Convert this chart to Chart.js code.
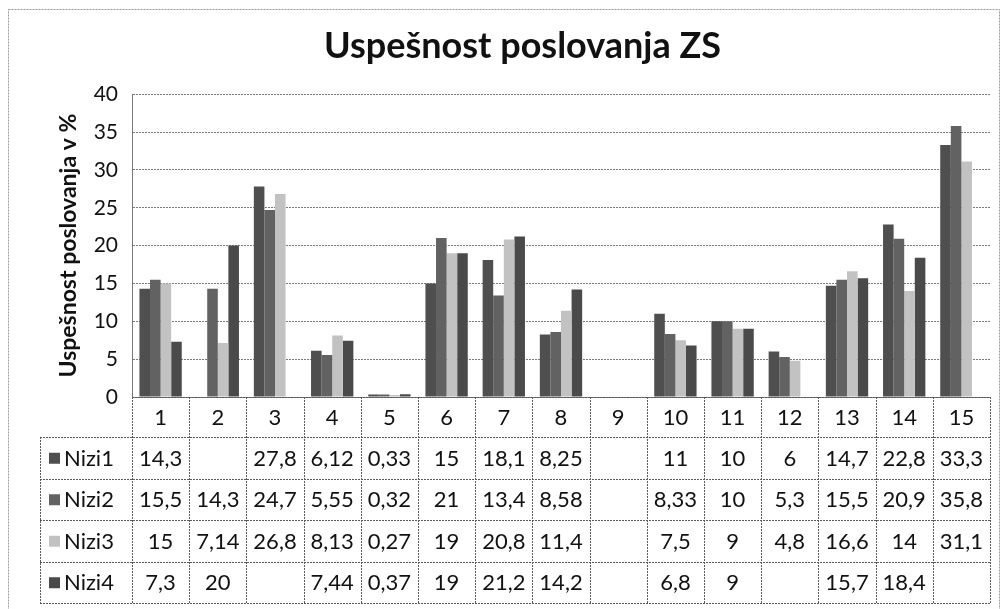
<!DOCTYPE html>
<html>
<head>
<meta charset="utf-8">
<script src="https://cdn.jsdelivr.net/npm/chart.js@4.4.0/dist/chart.umd.min.js"></script>
<style>
  html, body { margin: 0; padding: 0; background: #fff; }
  #wrap { width: 1002px; height: 609px; }
</style>
</head>
<body>
<div id="wrap"><canvas id="chart"></canvas></div>
<script>
// ----- DATA ----- //
const categories = ['1','2','3','4','5','6','7','8','9','10','11','12','13','14','15'];
const nizi1 = [14.3, null, 27.8, 6.12, 0.33, 15, 18.1, 8.25, null, 11, 10, 6, 14.7, 22.8, 33.3];
const nizi2 = [15.5, 14.3, 24.7, 5.55, 0.32, 21, 13.4, 8.58, null, 8.33, 10, 5.3, 15.5, 20.9, 35.8];
const nizi3 = [15, 7.14, 26.8, 8.13, 0.27, 19, 20.8, 11.4, null, 7.5, 9, 4.8, 16.6, 14, 31.1];
const nizi4 = [7.3, 20, null, 7.44, 0.37, 19, 21.2, 14.2, null, 6.8, 9, null, 15.7, 18.4, null];
const seriesNames = ['Nizi1', 'Nizi2', 'Nizi3', 'Nizi4'];
const seriesColors = ['#4f4f4f', '#626262', '#c2c2c2', '#4a4a4a'];

const FONT = 'Lato, "Open Sans", sans-serif';

// decimal comma like in the original table
function fmt(v) {
  if (v === null) return '';
  return String(v).replace('.', ',');
}

// ----- DATA TABLE PLUGIN ----- //
const dataTable = {
  id: 'dataTable',
  beforeDraw(chart) {
    const ctx = chart.ctx;
    ctx.save();
    ctx.strokeStyle = '#9a9a9a';
    ctx.setLineDash([2, 1]);
    ctx.lineWidth = 1;
    ctx.strokeRect(8.5, 9.5, 991, 640);
    ctx.restore();
  },
  afterDraw(chart) {
    const ctx = chart.ctx;
    const x = chart.scales.x;
    const area = chart.chartArea;
    const colW = (area.right - area.left) / categories.length;
    const headTop = area.bottom;
    const headH = 40;
    const rowH = 41.5;
    const tableLeft = 40;
    const tableBottom = headTop + headH + rowH * seriesNames.length;

    ctx.save();
    ctx.strokeStyle = '#5a5a5a';
    ctx.lineWidth = 1;
    ctx.setLineDash([2, 1]);

    // horizontal lines
    ctx.beginPath();
    ctx.moveTo(area.left, headTop + 0.5);
    ctx.lineTo(area.right, headTop + 0.5);
    for (let r = 0; r <= seriesNames.length; r++) {
      const y = Math.round(headTop + headH + r * rowH) + 0.5;
      ctx.moveTo(tableLeft, y);
      ctx.lineTo(area.right, y);
    }
    // vertical lines
    for (let c = 0; c <= categories.length; c++) {
      const xx = Math.round(area.left + c * colW) + 0.5;
      ctx.moveTo(xx, headTop);
      ctx.lineTo(xx, tableBottom);
    }
    ctx.moveTo(tableLeft + 0.5, headTop + headH);
    ctx.lineTo(tableLeft + 0.5, tableBottom);
    ctx.stroke();
    ctx.setLineDash([]);

    // header numbers
    ctx.fillStyle = '#111';
    ctx.font = '22px ' + FONT;
    ctx.textAlign = 'center';
    ctx.textBaseline = 'middle';
    categories.forEach((c, i) => {
      ctx.fillText(c, x.getPixelForValue(i), headTop + headH / 2 + 1);
    });

    // rows
    const allData = [nizi1, nizi2, nizi3, nizi4];
    seriesNames.forEach((name, r) => {
      const cy = headTop + headH + r * rowH + rowH / 2 + 1;
      ctx.fillStyle = seriesColors[r];
      ctx.fillRect(49, cy - 6, 11, 11);
      ctx.fillStyle = '#111';
      ctx.textAlign = 'left';
      ctx.fillText(name, 64, cy);
      ctx.textAlign = 'center';
      allData[r].forEach((v, i) => {
        ctx.fillText(fmt(v), x.getPixelForValue(i), cy);
      });
    });
    ctx.restore();
  }
};

// ----- CHART ----- //
new Chart(document.getElementById('chart').getContext('2d'), {
  type: 'bar',
  data: {
    labels: categories,
    datasets: [
      { label: seriesNames[0], data: nizi1, backgroundColor: seriesColors[0] },
      { label: seriesNames[1], data: nizi2, backgroundColor: seriesColors[1] },
      { label: seriesNames[2], data: nizi3, backgroundColor: seriesColors[2] },
      { label: seriesNames[3], data: nizi4, backgroundColor: seriesColors[3] }
    ]
  },
  options: {
    responsive: true,
    maintainAspectRatio: false,
    animation: false,
    categoryPercentage: 0.74,
    barPercentage: 1.0,
    layout: { padding: { left: 55, right: 12, top: 0, bottom: 0 } },
    plugins: {
      legend: { display: false },
      tooltip: { enabled: false },
      title: {
        display: true,
        text: 'Uspešnost poslovanja ZS',
        color: '#111',
        font: { family: FONT, size: 36, weight: 'bold' },
        padding: { top: 25, bottom: 26 }
      }
    },
    scales: {
      x: {
        ticks: { display: false },
        grid: { display: false },
        border: { display: false },
        afterFit(scale) { scale.height = 212; }
      },
      y: {
        min: 0,
        max: 40,
        ticks: {
          stepSize: 5,
          color: '#111',
          padding: 14,
          font: { family: FONT, size: 21 }
        },
        grid: { color: '#7a7a7a', drawTicks: false },
        border: { color: '#7a7a7a', dash: [2, 1] },
        title: {
          display: true,
          text: 'Uspešnost poslovanja v %',
          color: '#111',
          font: { family: FONT, size: 23, weight: 'bold' },
          padding: { top: 0, bottom: 0 }
        },
        afterFit(scale) { scale.width = 132 - 55; }
      }
    }
  },
  plugins: [dataTable]
});
</script>
</body>
</html>
